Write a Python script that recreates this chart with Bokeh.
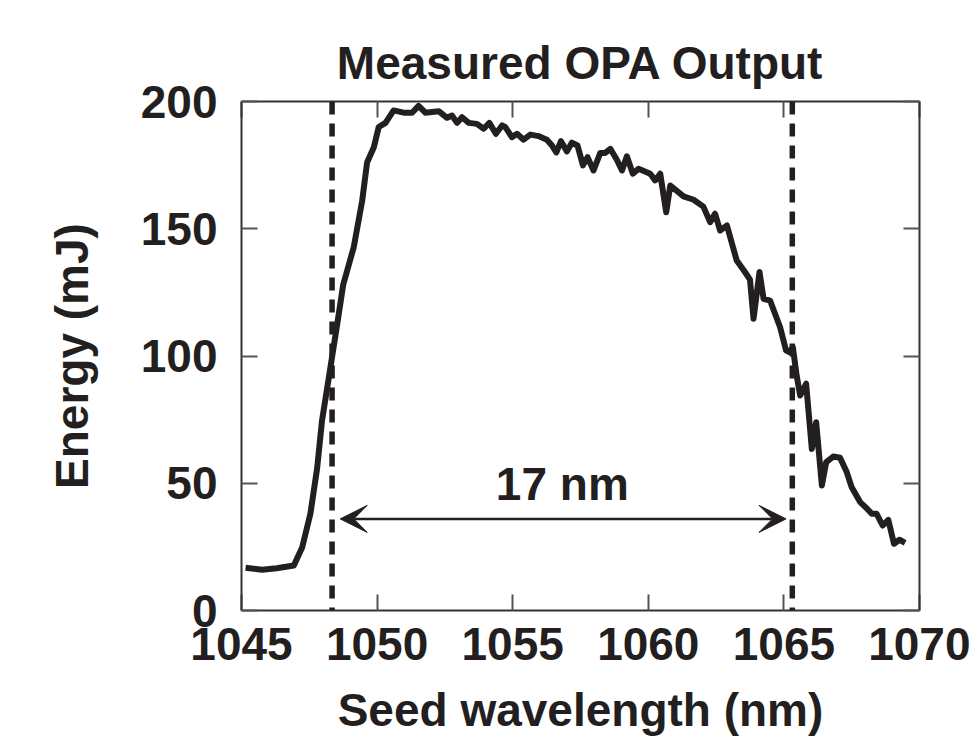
from bokeh.plotting import figure
from bokeh.models import Range1d, FixedTicker, LinearAxis, Arrow, VeeHead, Label, Span
from bokeh.embed import file_html
from bokeh.resources import INLINE

# ---- data ----
wavelength = [1045.15, 1045.76, 1046.3, 1046.93, 1047.24, 1047.54, 1047.79, 1047.97,
              1048.28, 1048.53, 1048.75, 1049.14, 1049.45, 1049.63, 1049.88, 1050.06,
              1050.31, 1050.61, 1050.98, 1051.29, 1051.53, 1051.78, 1052.27, 1052.58,
              1052.76, 1052.95, 1053.13, 1053.38, 1053.68, 1053.93, 1054.14, 1054.38,
              1054.61, 1054.73, 1054.97, 1055.16, 1055.40, 1055.65, 1055.95, 1056.26,
              1056.45, 1056.61, 1056.78, 1057.00, 1057.18, 1057.39, 1057.59, 1057.76,
              1057.98, 1058.23, 1058.41, 1058.60, 1058.84, 1059.03, 1059.21, 1059.43,
              1059.64, 1060.07, 1060.25, 1060.44, 1060.66, 1060.81, 1061.30, 1061.67,
              1062.03, 1062.28, 1062.46, 1062.65, 1062.90, 1063.26, 1063.57, 1063.75,
              1063.88, 1064.10, 1064.25, 1064.49, 1064.86, 1065.08, 1065.20, 1065.33,
              1065.47, 1065.60, 1065.82, 1066.03, 1066.19, 1066.40, 1066.56, 1066.82,
              1067.07, 1067.32, 1067.50, 1067.81, 1068.05, 1068.24, 1068.42, 1068.64,
              1068.85, 1069.06, 1069.26, 1069.47]
energy = [16.8, 16.0, 16.6, 17.7, 24.9, 38.0, 56.0, 74.7,
          95.6, 112.6, 128.0, 142.8, 161.0, 176.0, 182.0, 190.0,
          191.6, 196.5, 195.6, 195.6, 198.3, 195.6, 196.2, 193.6,
          194.5, 191.6, 193.8, 191.6, 191.2, 189.3, 191.6, 187.3,
          190.6, 189.9, 186.0, 187.3, 185.0, 187.0, 186.4, 185.0,
          182.7, 180.0, 184.4, 180.4, 183.8, 182.7, 174.9, 178.1,
          172.9, 179.8, 179.8, 181.4, 177.1, 172.9, 178.5, 171.6,
          173.6, 171.6, 169.0, 171.6, 156.5, 167.0, 162.7, 161.4,
          158.7, 152.6, 155.9, 149.3, 151.3, 137.5, 132.9, 130.0,
          114.6, 133.0, 122.5, 121.8, 111.3, 102.2, 101.5, 103.5,
          92.3, 84.5, 89.1, 63.5, 74.0, 49.1, 58.3, 60.5,
          60.0, 54.3, 48.4, 42.6, 40.2, 38.0, 38.0, 33.4,
          35.6, 26.2, 27.8, 26.6]

x_ticks = [1045, 1050, 1055, 1060, 1065, 1070]
y_ticks = [0, 50, 100, 150, 200]
fwhm_edges = [1048.34, 1065.31]          # dashed markers
width_label = "17 nm"
arrow_y = 36
label_pos = (1056.83, 49.6)

INK = "#231f20"
FONT = "Liberation Sans"
FS = "46px"

p = figure(width=970, height=741, output_backend="svg", toolbar_location=None,
           x_range=Range1d(1045, 1070), y_range=Range1d(0, 200),
           min_border_left=241, min_border_right=51, min_border_top=101,
           min_border_bottom=131, x_axis_label="Seed wavelength (nm)",
           y_axis_label="Energy (mJ)", title="Measured OPA Output")
p.background_fill_color = "white"
p.border_fill_color = "white"
p.outline_line_color = None
p.grid.visible = False

p.title.text_font = FONT
p.title.text_font_size = FS
p.title.text_font_style = "bold"
p.title.text_color = INK
p.title.align = "center"
p.title.standoff = 26

def style_axis(ax, labels=True):
    ax.axis_line_width = 2
    ax.axis_line_color = "#333333"
    ax.major_tick_in = 16
    ax.major_tick_out = 0
    ax.major_tick_line_width = 2
    ax.major_tick_line_color = "#555555"
    ax.minor_tick_line_color = None
    ax.major_label_text_font = FONT
    ax.major_label_text_font_size = FS
    ax.major_label_text_font_style = "bold"
    ax.major_label_text_color = INK
    ax.axis_label_text_font = FONT
    ax.axis_label_text_font_size = FS
    ax.axis_label_text_font_style = "bold"
    ax.axis_label_text_color = INK
    if not labels:
        ax.major_label_text_font_size = "0px"
        ax.major_label_text_color = None

p.xaxis.ticker = FixedTicker(ticks=x_ticks)
p.yaxis.ticker = FixedTicker(ticks=y_ticks)
style_axis(p.xaxis[0])
style_axis(p.yaxis[0])
p.xaxis.major_label_standoff = 17
p.xaxis.axis_label_standoff = 21
p.yaxis.major_label_standoff = 24
p.yaxis.axis_label_standoff = 40

top = LinearAxis(ticker=FixedTicker(ticks=x_ticks))
right = LinearAxis(ticker=FixedTicker(ticks=y_ticks))
style_axis(top, labels=False)
style_axis(right, labels=False)
p.add_layout(top, "above")
p.add_layout(right, "right")

for xe in fwhm_edges:
    p.add_layout(Span(location=xe, dimension="height", line_color=INK,
                      line_width=5.5, line_dash="13 9"))

p.line(wavelength, energy, line_color=INK, line_width=6, line_join="round")

arrow_tips = [fwhm_edges[0] + 0.3, fwhm_edges[1] - 0.23]
p.add_layout(Arrow(start=VeeHead(size=27, fill_color=INK, line_color=INK),
                   end=VeeHead(size=27, fill_color=INK, line_color=INK),
                   x_start=arrow_tips[0], x_end=arrow_tips[1],
                   y_start=arrow_y, y_end=arrow_y,
                   line_color=INK, line_width=2.5))
p.add_layout(Label(x=label_pos[0], y=label_pos[1], text=width_label,
                   text_font=FONT, text_font_size=FS, text_font_style="bold",
                   text_color=INK, text_align="center", text_baseline="middle"))

open("out.html", "w").write(file_html(p, INLINE))
